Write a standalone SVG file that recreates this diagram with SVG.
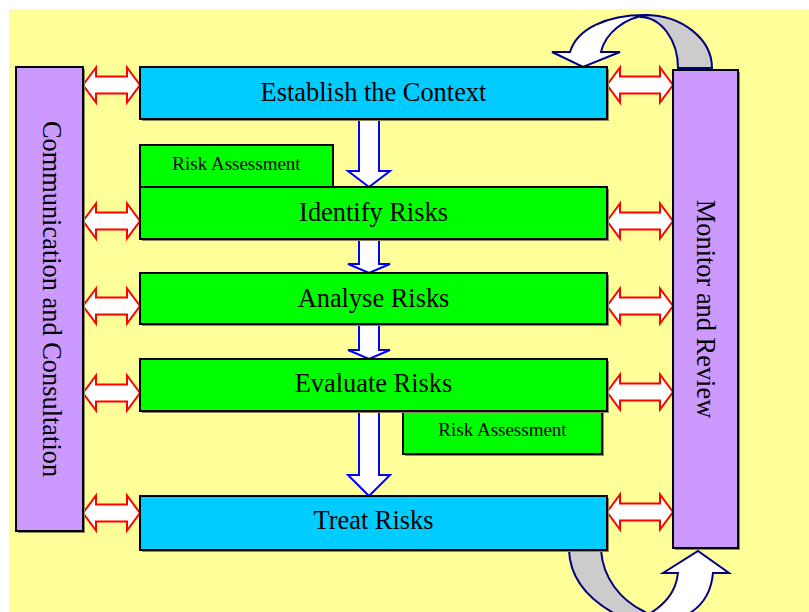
<svg xmlns="http://www.w3.org/2000/svg" width="809" height="612" viewBox="0 0 809 612">
<defs>
<style>
.box{stroke:#000;stroke-width:2}
.shadow{fill:#8a8a5c}
.cyan{fill:#00CCFF}
.green{fill:#00FF00}
.purple{fill:#CC99FF}
.t{font-family:"Liberation Serif","Times New Roman",serif;fill:#000;text-anchor:middle}
.big{font-size:26.4px}
.small{font-size:19px}
.dbl{fill:#fff;stroke:#FF0000;stroke-width:2;stroke-linejoin:miter}
.down{fill:#fff;stroke:#0000FF;stroke-width:2}
.curve{stroke:#000080;stroke-width:2}
</style>
</defs>
<rect x="0" y="0" width="809" height="612" fill="#fff"/>
<rect x="9" y="9" width="800" height="603" fill="#FFFF99"/>

<g id="connectors">
  <!-- top loop arrow -->
  <path class="curve" fill="#CCCCCC" d="M678,68 C678,40 661,17 640,17 L645,15 C682,15 712,39 712,68 Z"/>
  <path class="curve" fill="#fff" d="M552,52 L570,52 C577,29 606,15 645,15 L649,15 C624,17 605,34 601,52 L620,52 L583,67 Z"/>
  <!-- bottom loop arrow -->
  <path class="curve" fill="#CCCCCC" d="M569,550 L601,550 C603,578 620,600 645,612 L640,618 L623,618 C590,602 570,580 569,550 Z"/>
  <path class="curve" fill="#fff" d="M663,573 L698,551 L729,573 L713,573 C711,595 700,610 680,618 L642,618 C665,606 676,592 678,573 Z"/>
  <!-- down arrows -->
  <path class="down" d="M359,119 L379,119 L379,171 L390,171 L369,187 L348,171 L359,171 Z"/>
  <path class="down" d="M359,239 L379,239 L379,264 L390,264 L369,273 L348,264 L359,264 Z"/>
  <path class="down" d="M359,324 L379,324 L379,350 L390,350 L369,359 L348,350 L359,350 Z"/>
  <path class="down" d="M359,411 L379,411 L379,475 L390,475 L369,496 L348,475 L359,475 Z"/>
  <!-- double arrows left -->
  <path class="dbl" d="M83,85 L96,67.5 L96,76.5 L127,76.5 L127,67.5 L140,85 L127,102.5 L127,93.5 L96,93.5 L96,102.5 Z"/>
  <path class="dbl" d="M83,221 L96,203.5 L96,212.5 L127,212.5 L127,203.5 L140,221 L127,238.5 L127,229.5 L96,229.5 L96,238.5 Z"/>
  <path class="dbl" d="M83,306 L96,288.5 L96,297.5 L127,297.5 L127,288.5 L140,306 L127,323.5 L127,314.5 L96,314.5 L96,323.5 Z"/>
  <path class="dbl" d="M83,393 L96,375.5 L96,384.5 L127,384.5 L127,375.5 L140,393 L127,410.5 L127,401.5 L96,401.5 L96,410.5 Z"/>
  <path class="dbl" d="M83,513 L96,495.5 L96,504.5 L127,504.5 L127,495.5 L140,513 L127,530.5 L127,521.5 L96,521.5 L96,530.5 Z"/>
  <!-- double arrows right -->
  <path class="dbl" d="M607,85 L620,67.5 L620,76.5 L660,76.5 L660,67.5 L673,85 L660,102.5 L660,93.5 L620,93.5 L620,102.5 Z"/>
  <path class="dbl" d="M607,221 L620,203.5 L620,212.5 L660,212.5 L660,203.5 L673,221 L660,238.5 L660,229.5 L620,229.5 L620,238.5 Z"/>
  <path class="dbl" d="M607,306 L620,288.5 L620,297.5 L660,297.5 L660,288.5 L673,306 L660,323.5 L660,314.5 L620,314.5 L620,323.5 Z"/>
  <path class="dbl" d="M607,392 L620,374.5 L620,383.5 L660,383.5 L660,374.5 L673,392 L660,409.5 L660,400.5 L620,400.5 L620,409.5 Z"/>
  <path class="dbl" d="M607,512 L620,494.5 L620,503.5 L660,503.5 L660,494.5 L673,512 L660,529.5 L660,520.5 L620,520.5 L620,529.5 Z"/>
</g>

<g id="communication">
  <rect class="shadow" x="18" y="69" width="67" height="464"/>
  <rect class="box purple" x="16" y="67" width="67" height="464"/>
  <text class="t big" transform="translate(52,299) rotate(90)" x="0" y="9">Communication and Consultation</text>
</g>

<g id="monitor">
  <rect class="shadow" x="675" y="72" width="65" height="478"/>
  <rect class="box purple" x="673" y="70" width="65" height="478"/>
  <text class="t big" transform="translate(706,309) rotate(90)" x="0" y="9">Monitor and Review</text>
</g>

<g id="establish">
  <rect class="shadow" x="142" y="69" width="467" height="52"/>
  <rect class="box cyan" x="140" y="67" width="467" height="52"/>
  <text class="t big" x="373.5" y="101">Establish the Context</text>
</g>

<g id="risk-assessment-1">
  <rect class="box green" x="140" y="145" width="193" height="42"/>
  <text class="t small" x="236.5" y="170">Risk Assessment</text>
</g>

<g id="identify">
  <rect class="shadow" x="142" y="189" width="467" height="52"/>
  <rect class="box green" x="140" y="187" width="467" height="52"/>
  <text class="t big" x="373.5" y="221">Identify Risks</text>
</g>

<g id="analyse">
  <rect class="shadow" x="142" y="275" width="467" height="51"/>
  <rect class="box green" x="140" y="273" width="467" height="51"/>
  <text class="t big" x="373.5" y="307">Analyse Risks</text>
</g>

<g id="risk-assessment-2">
  <rect class="shadow" x="405" y="413" width="199" height="43"/>
  <rect class="box green" x="403" y="411" width="199" height="43"/>
  <text class="t small" x="502.5" y="436">Risk Assessment</text>
</g>

<g id="evaluate">
  <rect class="shadow" x="142" y="361" width="467" height="52"/>
  <rect class="box green" x="140" y="359" width="467" height="52"/>
  <text class="t big" x="373.5" y="392">Evaluate Risks</text>
</g>

<g id="treat">
  <rect class="shadow" x="142" y="498" width="467" height="54"/>
  <rect class="box cyan" x="140" y="496" width="467" height="54"/>
  <text class="t big" x="373.5" y="529">Treat Risks</text>
</g>
</svg>
